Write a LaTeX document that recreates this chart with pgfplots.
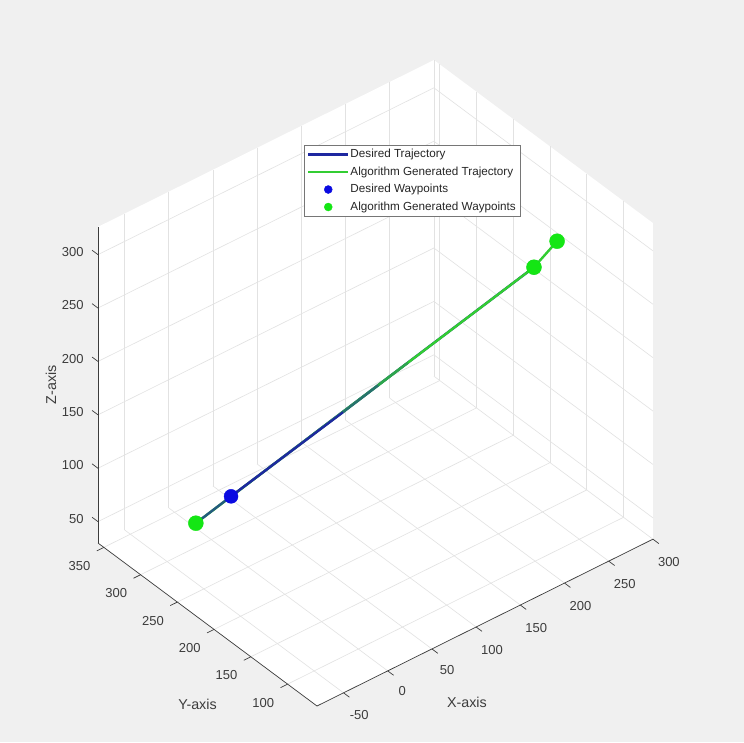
\documentclass[border=0pt]{standalone}
\usepackage{pgfplots}
\pgfplotsset{compat=1.18}
\usepackage{fontspec}
\setmainfont{Liberation Sans}
\usetikzlibrary{backgrounds,calc}
\definecolor{figbg}{RGB}{240,240,240}
\definecolor{gridc}{RGB}{226,226,226}
\definecolor{axc}{RGB}{60,60,60}
\definecolor{trajblue}{RGB}{30,40,160}
\definecolor{wpblue}{RGB}{10,10,225}
\definecolor{alggreen}{RGB}{50,205,50}
\definecolor{wpgreen}{RGB}{20,230,20}
\begin{document}
\begin{tikzpicture}
\begin{axis}[
  x={(0.884pt,0.439pt)}, y={(-0.735pt,0.547pt)}, z={(0pt,1.068pt)},
  xmin=-80, xmax=300, ymin=60, ymax=358, zmin=30, zmax=326,
  xtick={-50,0,...,300}, ytick={100,150,...,350}, ztick={50,100,...,300},
  grid=major, major grid style={gridc, line width=0.6pt},
  axis line style={draw=none},
  tick pos=left,
  tick style={draw=none},
  major tick length=6pt,
  tick align=outside,
  tick label style={font=\fontsize{13}{15}\selectfont, text=axc},
  xticklabel style={xshift=5pt, yshift=-7pt},
  yticklabel style={xshift=-11pt, yshift=-3pt},
  zticklabel style={xshift=-6pt, yshift=-2pt},
  /pgf/number format/assume math mode=true,
  xlabel={X-axis}, ylabel={Y-axis}, zlabel={Z-axis},
  every axis x label/.style={at={(rel axis cs:0.5,0,0)}, anchor=center, xshift=-18pt, yshift=-80pt, font=\fontsize{14.3}{17}\selectfont, text=axc},
  every axis y label/.style={at={(rel axis cs:0,0.5,0)}, anchor=center, xshift=-10pt, yshift=-80pt, font=\fontsize{14.3}{17}\selectfont, text=axc},
  every axis z label/.style={at={(rel axis cs:0,1,0.5)}, anchor=center, xshift=-47pt, rotate=90, font=\fontsize{14.3}{17}\selectfont, text=axc},
  legend style={at={(0.371,0.868)}, anchor=north west, draw=axc!70, fill=white,
    font=\fontsize{11.7}{14}\selectfont, text=black!85,
    nodes={inner sep=1pt, text height=9pt, text depth=3pt}, row sep=3.5pt},
  legend cell align=left,
  legend image code/.code={\draw[mark repeat=2,mark phase=2,#1,mark size=4pt] plot coordinates {(0pt,0pt) (20pt,0pt) (40pt,0pt)};},
  clip=false,
]
\addplot3[trajblue, line width=2.4pt] coordinates {(9,284,75) (217,122,287)};
\addlegendentry{Desired Trajectory}
\addplot3[alggreen, line width=2.4pt] coordinates {(-15,303,50) (217,122,287) (234,111,310)};
\addlegendentry{Algorithm Generated Trajectory}
\addplot3[trajblue!70!alggreen, line width=2.4pt, forget plot] coordinates {(-15,303,50) (9,284,75)};
\addplot3[trajblue, line width=2.4pt, forget plot] coordinates {(9,284,75) (86,224,153)};
\addplot3[trajblue!55!alggreen, line width=2.4pt, forget plot] coordinates {(86,224,153) (110,205,178)};
\addplot3[trajblue!25!alggreen, line width=2.4pt, forget plot] coordinates {(110,205,178) (130,189,199)};
\addplot3[only marks, mark=*, mark size=7pt, color=wpblue, mark options={draw=wpblue, fill=wpblue}] coordinates {(9,284,75) (217,122,287)};
\addlegendentry{Desired Waypoints}
\addplot3[only marks, mark=*, mark size=7.5pt, color=wpgreen, mark options={draw=wpgreen, fill=wpgreen}] coordinates {(-15,303,50) (217,122,287) (234,111,310)};
\addlegendentry{Algorithm Generated Waypoints}
\coordinate (O) at (axis cs:-80,60,30);
\coordinate (R) at (axis cs:300,60,30);
\coordinate (RT) at (axis cs:300,60,326);
\coordinate (BT) at (axis cs:300,358,326);
\coordinate (LT) at (axis cs:-80,358,326);
\coordinate (L) at (axis cs:-80,358,30);
\draw[axc, line width=0.7pt] (L) -- (O) -- (R);
\draw[axc, line width=0.7pt] (L) -- (LT);
\pgfplotsinvokeforeach{-50,0,50,100,150,200,250,300}{
  \draw[axc, line width=0.7pt] (axis cs:#1,60,30) -- (axis cs:#1,52,30);
}
\pgfplotsinvokeforeach{100,150,200,250,300,350}{
  \draw[axc, line width=0.7pt] (axis cs:-80,#1,30) -- (axis cs:-88,#1,30);
}
\pgfplotsinvokeforeach{50,100,150,200,250,300}{
  \draw[axc, line width=0.7pt] (axis cs:-80,358,#1) -- (axis cs:-80,366,#1);
}
\end{axis}
\begin{scope}[on background layer]
\fill[figbg] ($(O)+(-317pt,-36pt)$) rectangle ($(O)+(427pt,706pt)$);
\fill[white] (O) -- (R) -- (RT) -- (BT) -- (LT) -- (L) -- cycle;
\end{scope}
\pgfresetboundingbox
\path[use as bounding box] ($(O)+(-317pt,-36pt)$) rectangle ($(O)+(427pt,706pt)$);
\end{tikzpicture}
\end{document}
